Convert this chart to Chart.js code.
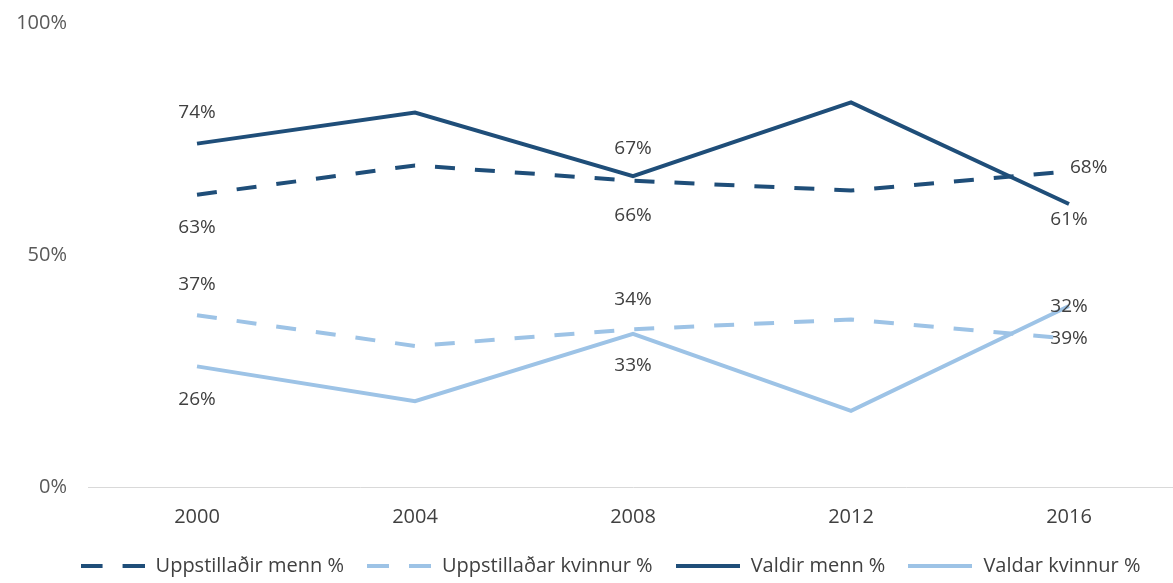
<!DOCTYPE html>
<html>
<head>
<meta charset="utf-8">
<script src="https://cdn.jsdelivr.net/npm/chart.js@4.4.1/dist/chart.umd.min.js"></script>
<style>
    html, body { margin: 0; padding: 0; background: #ffffff; overflow: hidden; }
    #chart { display: block; }
</style>
</head>
<body>
<canvas id="chart" width="1178" height="583"></canvas>
<script>
// Data
const years = ["2000", "2004", "2008", "2012", "2016"];
const uppstilladirMenn = [63, 69.3, 66, 63.9, 68];
const uppstilladarKvinnur = [37, 30.4, 34, 36.1, 32];
const valdirMenn = [74, 80.7, 67, 82.9, 61];
const valdarKvinnur = [26, 18.5, 33, 16.4, 39];
const yTicks = [0, 50, 100];

// Colours
const darkBlue = "#1f4e79";
const lightBlue = "#9dc3e6";
const textColor = "#404040";
const fontFamily = "'Open Sans', 'DejaVu Sans', sans-serif";

// Where each series puts its value labels (point index, offset from point)
const labelSpots = [
    [{ i: 0, dy: 33 }, { i: 2, dy: 35 }, { i: 4, dx: 1, dy: -4, align: "left" }],
    [{ i: 0, dy: -31 }, { i: 2, dy: -30 }, { i: 4, dy: -32 }],
    [{ i: 0, dy: -31 }, { i: 2, dy: -28 }, { i: 4, dy: 16 }],
    [{ i: 0, dy: 33 }, { i: 2, dy: 32 }, { i: 4, dy: 33 }],
];

// Small plugin that writes the value labels next to the points
const valueLabels = {
    id: "valueLabels",
    afterDatasetsDraw(chart) {
        const ctx = chart.ctx;
        ctx.save();
        ctx.font = "19px " + fontFamily;
        ctx.fillStyle = textColor;
        ctx.textBaseline = "middle";
        chart.data.datasets.forEach((ds, d) => {
            const meta = chart.getDatasetMeta(d);
            labelSpots[d].forEach(spot => {
                const pt = meta.data[spot.i];
                ctx.textAlign = spot.align || "center";
                ctx.fillText(Math.round(ds.data[spot.i]) + "%", pt.x + (spot.dx || 0), pt.y + spot.dy);
            });
        });
        ctx.restore();
    },
};

// The legend in the picture sits a bit right of the canvas centre
const legendShift = {
    id: "legendShift",
    afterLayout(chart) {
        chart.legend.left += 16;
        chart.legend.right += 16;
    },
};

// Legend swatch: a short line, dashed or solid
function makeSwatch(color, dashed) {
    const c = document.createElement("canvas");
    c.width = 64;
    c.height = 6;
    const g = c.getContext("2d");
    g.strokeStyle = color;
    g.lineWidth = 4;
    g.setLineDash(dashed ? [22, 20] : []);
    g.beginPath();
    g.moveTo(0, 3);
    g.lineTo(64, 3);
    g.stroke();
    return c;
}

function lineSet(label, data, color, dashed) {
    return {
        label: label,
        data: data,
        borderColor: color,
        backgroundColor: color,
        borderWidth: 4,
        borderDash: dashed ? [20, 20] : [],
        borderCapStyle: "butt",
        pointRadius: 0,
        pointStyle: makeSwatch(color, dashed),
        tension: 0,
        fill: false,
    };
}

new Chart(document.getElementById("chart").getContext("2d"), {
    type: "line",
    data: {
        labels: years,
        datasets: [
            lineSet("Uppstillaðir menn %", uppstilladirMenn, darkBlue, true),
            lineSet("Uppstillaðar kvinnur %", uppstilladarKvinnur, lightBlue, true),
            lineSet("Valdir menn %", valdirMenn, darkBlue, false),
            lineSet("Valdar kvinnur %", valdarKvinnur, lightBlue, false),
        ],
    },
    options: {
        responsive: false,
        animation: false,
        layout: { padding: { left: 10, top: 23, right: 0, bottom: -3 } },
        plugins: {
            tooltip: { enabled: false },
            legend: {
                position: "bottom",
                labels: {
                    usePointStyle: true,
                    pointStyleWidth: 66,
                    boxWidth: 66,
                    padding: 22,
                    color: textColor,
                    font: { family: fontFamily, size: 20 },
                },
            },
        },
        scales: {
            x: {
                offset: true,
                grid: { display: false, drawTicks: false },
                border: { display: true, color: "#d9d9d9", width: 1 },
                ticks: { color: textColor, padding: 18, font: { family: fontFamily, size: 20 } },
                afterFit(scale) { scale.height = 47; },
            },
            y: {
                min: yTicks[0],
                max: yTicks[yTicks.length - 1],
                grid: { display: false, drawTicks: false },
                border: { display: false },
                ticks: {
                    stepSize: yTicks[1] - yTicks[0],
                    color: "#595959",
                    padding: 21,
                    font: { family: fontFamily, size: 20 },
                    callback: v => v + "%",
                },
                afterFit(scale) {
                    scale.width = 78;
                    scale.paddingTop = 10;
                    scale.paddingBottom = 10;
                },
            },
        },
    },
    plugins: [valueLabels, legendShift],
});
</script>
</body>
</html>
